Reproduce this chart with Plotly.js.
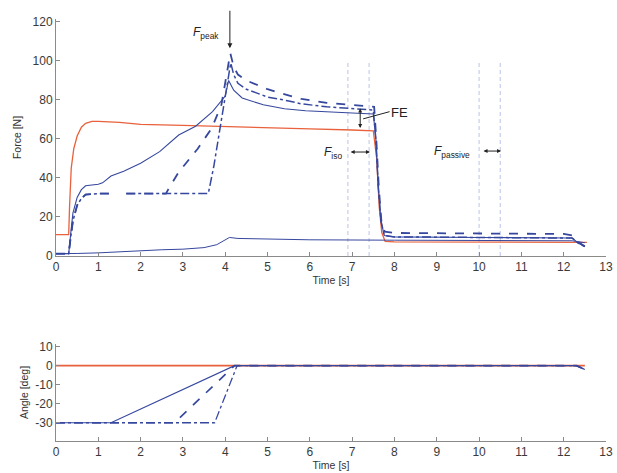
<!DOCTYPE html>
<html>
<head>
<meta charset="utf-8">
<script src="https://cdn.plot.ly/plotly-3.0.1.min.js"></script>
<style>html,body{margin:0;padding:0;background:#fff;}#chart{width:617px;height:473px;}</style>
</head>
<body>
<div id="chart"></div>
<script>
// ---- Force panel data (time in s, force in N) ----
const redForceT  = [0, 0.3, 0.32, 0.36, 0.42, 0.5, 0.6, 0.7, 0.85, 1.0, 1.5, 2.0, 3.0, 4.0, 5.0, 6.0, 7.0, 7.5, 7.58, 7.64, 7.7, 7.78, 8.0, 10.0, 12.0, 12.3, 12.55];
const redForceV  = [11, 11, 25, 45, 55, 61.5, 66, 68, 69, 69, 68.5, 67.5, 67, 66.5, 65.8, 65.2, 64.6, 64.2, 50, 25, 12, 7.5, 7.2, 7.2, 7.3, 7.3, 7];

const passiveT   = [0, 0.3, 0.5, 1.0, 1.5, 2.0, 2.5, 3.0, 3.5, 3.8, 4.0, 4.1, 4.3, 5.0, 6.0, 8.0, 10.0, 12.0, 12.2, 12.5];
const passiveV   = [1.2, 1.2, 1.3, 1.6, 2.2, 2.9, 3.2, 3.5, 4.3, 5.8, 8, 9.5, 9, 8.6, 8.3, 8.1, 8.1, 8.1, 7.8, 6.8];

const solidT     = [0, 0.3, 0.35, 0.4, 0.5, 0.6, 0.7, 0.9, 1.0, 1.1, 1.3, 1.6, 2.0, 2.45, 2.9, 3.3, 3.7, 4.0, 4.08, 4.2, 4.4, 4.9, 5.4, 5.9, 6.4, 7.0, 7.5, 7.56, 7.62, 7.68, 7.76, 8.0, 10.0, 12.0, 12.2, 12.35, 12.5];
const solidV     = [1.2, 1.2, 12, 22, 30, 34, 36, 36.5, 36.8, 37.5, 41, 43.5, 47.5, 53.5, 62, 66.5, 74, 82, 90, 85, 81, 77.5, 75.5, 74.5, 73.8, 73.3, 72.8, 60, 35, 18, 10.5, 9.8, 9.5, 9.5, 9.2, 6.5, 4.8];

const dashedT    = [0, 0.3, 0.35, 0.4, 0.5, 0.6, 0.7, 1.0, 1.28, 1.29, 1.66, 2.0, 2.6, 2.65, 2.9, 3.35, 3.68, 3.91, 4.05, 4.12, 4.2, 4.3, 4.5, 5.0, 5.3, 5.8, 6.4, 7.0, 7.52, 7.57, 7.63, 7.69, 7.77, 8.0, 10.0, 12.0, 12.2, 12.35, 12.5];
const dashedV    = [1.2, 1.2, 10, 18, 26, 29.5, 31.5, 32, 32, null, 32, 32, 32, 34, 43, 55, 65.5, 77.5, 95, 104, 97, 93, 90, 85.5, 83.5, 80.5, 78.5, 77.3, 76.5, 60, 35, 18, 12.5, 11.8, 11.5, 11.3, 10.5, 7, 5];

const dashDotT   = [0, 0.3, 0.35, 0.4, 0.5, 0.6, 0.7, 1.0, 1.28, 1.29, 1.66, 2.0, 3.0, 3.6, 3.73, 3.88, 4.03, 4.13, 4.2, 4.3, 4.5, 5.0, 5.5, 5.8, 6.4, 7.0, 7.5, 7.56, 7.62, 7.68, 7.76, 8.0, 10.0, 12.0, 12.2, 12.35, 12.5];
const dashDotV   = [1.2, 1.2, 10, 18, 26, 29.5, 31.5, 32, 32, null, 32, 32, 32, 32, 46, 66, 88, 99, 93, 88.5, 85.5, 81.5, 79.5, 78, 76.5, 75.5, 74.8, 60, 35, 18, 10.5, 9.8, 9.5, 9.5, 9.2, 6.5, 4.8];

// ---- Angle panel data (time in s, angle in deg) ----
const redAngleT   = [0, 12.5];
const redAngleV   = [0, 0];
const solidAngleT = [0, 1.3, 4.22, 12.3, 12.5];
const solidAngleV = [-30, -30, 0, 0, -2];
const dashAngleT  = [0, 2.8, 4.22, 12.3, 12.5];
const dashAngleV  = [-30, -30, 0, 0, -2];
const ddAngleT    = [0, 3.75, 4.28, 12.3, 12.5];
const ddAngleV    = [-30, -30, 0, 0, -2];

// ---- Window markers and ticks ----
const windowTimes = [6.9, 7.4, 10.0, 10.5];
const windowTop   = 100;
const timeTicks   = [0,1,2,3,4,5,6,7,8,9,10,11,12,13];
const forceTicks  = [0,20,40,60,80,100,120];
const angleTicks  = [-30,-20,-10,0,10];

const BLUE = '#36479e';
const RED  = '#e8613c';
const LIGHT = '#bcc3e6';

const traces = [
  {x: redForceT, y: redForceV, xaxis:'x', yaxis:'y', mode:'lines', line:{color:RED, width:1.3}},
  {x: passiveT, y: passiveV, xaxis:'x', yaxis:'y', mode:'lines', line:{color:BLUE, width:1}},
  {x: solidT, y: solidV, xaxis:'x', yaxis:'y', mode:'lines', line:{color:BLUE, width:1.1}},
  {x: dashedT, y: dashedV, xaxis:'x', yaxis:'y', mode:'lines', connectgaps:false, line:{color:BLUE, width:1.8, dash:'dash'}},
  {x: dashDotT, y: dashDotV, xaxis:'x', yaxis:'y', mode:'lines', connectgaps:false, line:{color:BLUE, width:1.5, dash:'dashdot'}},
  {x: redAngleT, y: redAngleV, xaxis:'x2', yaxis:'y2', mode:'lines', line:{color:RED, width:1.8}},
  {x: solidAngleT, y: solidAngleV, xaxis:'x2', yaxis:'y2', mode:'lines', line:{color:BLUE, width:1.1}},
  {x: dashAngleT, y: dashAngleV, xaxis:'x2', yaxis:'y2', mode:'lines', line:{color:BLUE, width:1.7, dash:'dash'}},
  {x: ddAngleT, y: ddAngleV, xaxis:'x2', yaxis:'y2', mode:'lines', line:{color:BLUE, width:1.3, dash:'dashdot'}}
];

const shapes = windowTimes.map(t => ({
  type:'line', xref:'x', yref:'y', x0:t, x1:t, y0:0, y1:windowTop,
  line:{color:LIGHT, width:1, dash:'4px,3px'}, layer:'below'
}));

const FONT = 'Liberation Sans, Arial, sans-serif';
const annFont = {family:FONT, size:12, color:'#222'};
const annotations = [
  {xref:'x', yref:'y', x:3.55, y:114.5, text:'<i>F</i><sub>peak</sub>', showarrow:false, font:annFont},
  {xref:'x', yref:'y', x:4.11, y:106.5, axref:'x', ayref:'y', ax:4.11, ay:126.5, text:'', showarrow:true, arrowhead:2, arrowsize:1, arrowwidth:1, arrowcolor:'#222'},
  {xref:'x', yref:'y', x:7.86, y:73.5, text:'FE', xanchor:'left', showarrow:false, font:{family:FONT, size:13, color:'#222'}},
  {xref:'x', yref:'y', x:7.26, y:70.3, axref:'x', ayref:'y', ax:7.92, ay:74.2, text:'', showarrow:true, arrowhead:0, arrowwidth:1, arrowcolor:'#222'},
  {xref:'x', yref:'y', x:7.19, y:75.6, axref:'x', ayref:'y', ax:7.19, ay:64.8, text:'', showarrow:true, arrowhead:2, startarrowhead:2, arrowside:'end+start', arrowsize:0.8, arrowwidth:1, arrowcolor:'#222'},
  {xref:'x', yref:'y', x:6.55, y:52.8, text:'<i>F</i><sub>iso</sub>', showarrow:false, font:annFont},
  {xref:'x', yref:'y', x:7.42, y:53.3, axref:'x', ayref:'y', ax:6.93, ay:53.3, text:'', showarrow:true, arrowhead:2, startarrowhead:2, arrowside:'end+start', arrowsize:0.8, arrowwidth:1, arrowcolor:'#222'},
  {xref:'x', yref:'y', x:9.36, y:53.3, text:'<i>F</i><sub>passive</sub>', showarrow:false, font:annFont},
  {xref:'x', yref:'y', x:10.52, y:53.8, axref:'x', ayref:'y', ax:10.07, ay:53.8, text:'', showarrow:true, arrowhead:2, startarrowhead:2, arrowside:'end+start', arrowsize:0.8, arrowwidth:1, arrowcolor:'#222'}
];

const axBase = {
  showline:true, linecolor:'#8a8a8a', linewidth:1, showgrid:false, zeroline:false,
  ticks:'inside', ticklen:4, tickcolor:'#8a8a8a',
  tickfont:{family:FONT, size:12, color:'#3a3a3a'}, mirror:false
};
const titleFont = {family:FONT, size:10.5, color:'#333'};

const layout = {
  width:617, height:473,
  margin:{l:56, r:11, t:19, b:32},
  paper_bgcolor:'#fff', plot_bgcolor:'#fff',
  showlegend:false,
  font:{family:FONT, color:'#333'},
  xaxis: Object.assign({}, axBase, {anchor:'y', range:[0,13], tickvals:timeTicks, ticktext:timeTicks.map(String),
    title:{text:'Time [s]', font:titleFont, standoff:1}}),
  yaxis: Object.assign({}, axBase, {domain:[0.4384,1], range:[0,121.5], tickvals:forceTicks, ticktext:forceTicks.map(String),
    title:{text:'Force [N]', font:titleFont, standoff:8}}),
  xaxis2: Object.assign({}, axBase, {anchor:'y2', range:[0,13], tickvals:timeTicks, ticktext:timeTicks.map(String),
    title:{text:'Time [s]', font:titleFont, standoff:1}}),
  yaxis2: Object.assign({}, axBase, {domain:[0,0.2299], range:[-39.6,11.4], tickvals:angleTicks, ticktext:angleTicks.map(String),
    title:{text:'Angle [deg]', font:titleFont, standoff:4}}),
  shapes: shapes,
  annotations: annotations
};

Plotly.newPlot('chart', traces, layout, {displayModeBar:false, staticPlot:true});
</script>
</body>
</html>
